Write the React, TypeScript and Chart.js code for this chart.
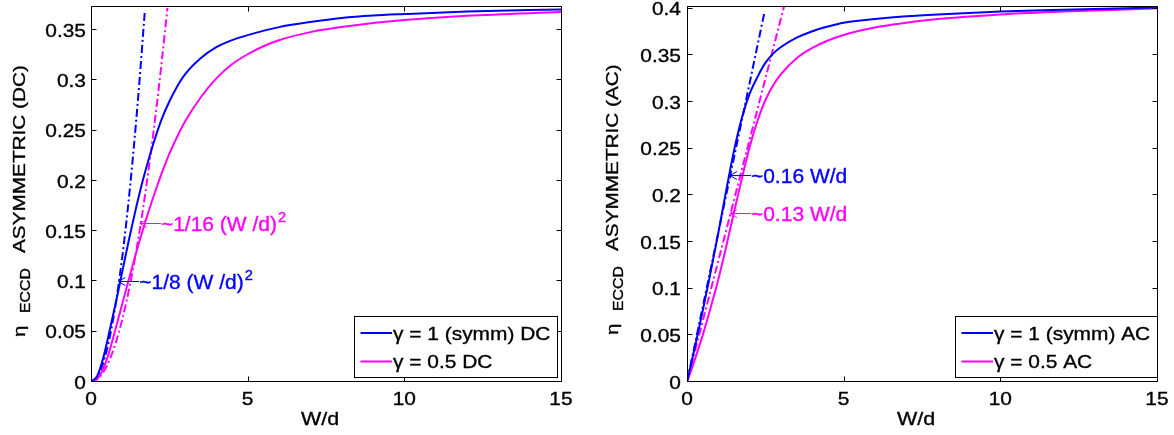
import React, { useEffect, useRef } from 'react';
import { Chart, registerables } from 'chart.js';

Chart.register(...registerables);

const FONT = "'Liberation Sans', Arial, Helvetica, sans-serif";
const BLUE = '#0000ff';
const MAGENTA = '#ff00ff';
const DASH_DOT = [8, 3, 2, 3];

// Shared x axis (W/d)
const xTickValues = [0, 5, 10, 15];
const xTickLabels = ['0', '5', '10', '15'];

// ---- DC panel ----
const yTickValuesDC = [0, 0.05, 0.1, 0.15, 0.2, 0.25, 0.3, 0.35];
const yTickLabelsDC = ['0', '0.05', '0.1', '0.15', '0.2', '0.25', '0.3', '0.35'];

const dcSymW = [0, 0.2, 0.4, 0.6, 0.8, 1.0, 1.2, 1.4, 1.6, 1.8, 2.0, 2.25, 2.5, 2.75, 3.0, 3.5, 4.0, 4.5, 5.0, 6.0, 7.0, 8.0, 9.0, 10, 12, 15];
const dcSymEta = [0, 0.006, 0.025, 0.052, 0.08, 0.11, 0.14, 0.168, 0.194, 0.217, 0.238, 0.261, 0.279, 0.294, 0.306, 0.322, 0.333, 0.34, 0.345, 0.353, 0.358, 0.362, 0.3645, 0.366, 0.3685, 0.3706];

const dcHalfW = [0, 0.25, 0.5, 0.75, 1.0, 1.25, 1.5, 1.75, 2.0, 2.25, 2.5, 2.75, 3.0, 3.5, 4.0, 4.5, 5.0, 5.5, 6.0, 7.0, 8.0, 9.0, 10, 12, 15];
const dcHalfEta = [0, 0.005, 0.022, 0.049, 0.078, 0.107, 0.135, 0.161, 0.185, 0.207, 0.227, 0.244, 0.259, 0.283, 0.302, 0.316, 0.326, 0.334, 0.34, 0.348, 0.353, 0.357, 0.36, 0.3642, 0.368];

// small-W asymptote ~ 1/8 (W/d)^2
const dcSymFitW = [0, 0.25, 0.5, 0.75, 1, 1.25, 1.5, 1.72];
const dcSymFitEta = [0, 0.0078, 0.0313, 0.0703, 0.125, 0.1953, 0.2813, 0.3698];
// small-W asymptote ~ 1/16 (W/d)^2
const dcHalfFitW = [0, 0.25, 0.5, 0.75, 1, 1.25, 1.5, 1.75, 2, 2.25, 2.44];
const dcHalfFitEta = [0, 0.0039, 0.0156, 0.0352, 0.0625, 0.0977, 0.1406, 0.1914, 0.25, 0.3164, 0.3721];

// ---- AC panel ----
const yTickValuesAC = [0, 0.05, 0.1, 0.15, 0.2, 0.25, 0.3, 0.35, 0.4];
const yTickLabelsAC = ['0', '0.05', '0.1', '0.15', '0.2', '0.25', '0.3', '0.35', '0.4'];

const acSymW = [0, 0.25, 0.5, 0.75, 1.0, 1.25, 1.5, 1.75, 2.0, 2.25, 2.5, 2.75, 3.0, 3.5, 4.0, 4.5, 5.0, 6.0, 7.0, 8.0, 10, 12, 15];
const acSymEta = [0, 0.037, 0.076, 0.117, 0.16, 0.205, 0.248, 0.283, 0.309, 0.327, 0.342, 0.352, 0.359, 0.369, 0.376, 0.381, 0.385, 0.389, 0.392, 0.394, 0.397, 0.399, 0.4015];

const acHalfW = [0, 0.25, 0.5, 0.75, 1.0, 1.25, 1.5, 1.75, 2.0, 2.25, 2.5, 2.75, 3.0, 3.5, 4.0, 4.5, 5.0, 6.0, 7.0, 8.0, 10, 12, 15];
const acHalfEta = [0, 0.024, 0.05, 0.079, 0.11, 0.145, 0.182, 0.218, 0.252, 0.28, 0.302, 0.318, 0.33, 0.347, 0.358, 0.366, 0.372, 0.38, 0.385, 0.389, 0.394, 0.397, 0.4005];

// small-W asymptote ~ 0.16 W/d
const acSymFitW = [0, 2.47];
const acSymFitEta = [0, 0.396];
// small-W asymptote ~ 0.13 W/d
const acHalfFitW = [0, 3.1];
const acHalfFitEta = [0, 0.403];

const legendDC = ['\u03b3 = 1 (symm) DC', '\u03b3 = 0.5 DC'];
const legendAC = ['\u03b3 = 1 (symm) AC', '\u03b3 = 0.5 AC'];

type Note = { x: number; y: number; color: string; text: string; sup?: string };

const notesDC: Note[] = [
  { x: 0.87, y: 0.1, color: BLUE, text: '~1/8 (W /d)', sup: '2' },
  { x: 1.56, y: 0.158, color: MAGENTA, text: '~1/16 (W /d)', sup: '2' },
];
const notesAC: Note[] = [
  { x: 1.37, y: 0.222, color: BLUE, text: '~0.16 W/d' },
  { x: 1.37, y: 0.181, color: MAGENTA, text: '~0.13 W/d' },
];

type Panel = {
  left: number;
  yAxisWidth: number;
  rightPad: number;
  yMax: number;
  yTicks: number[];
  yLabels: string[];
  yTickGap: number;
  yTitle: string;
  yTitleX: number;
  yTitleBottom: number;
  legend: string[];
  legendInset: number;
  notes: Note[];
  series: { w: number[]; eta: number[]; color: string; dashed: boolean }[];
};

const panels: Panel[] = [
  {
    left: 0,
    yAxisWidth: 91,
    rightPad: 26,
    yMax: 0.374,
    yTicks: yTickValuesDC,
    yLabels: yTickLabelsDC,
    yTickGap: 5,
    yTitle: 'ASYMMETRIC (DC)',
    yTitleX: 25,
    yTitleBottom: 337,
    legend: legendDC,
    legendInset: 4,
    notes: notesDC,
    series: [
      { w: dcSymW, eta: dcSymEta, color: BLUE, dashed: false },
      { w: dcHalfW, eta: dcHalfEta, color: MAGENTA, dashed: false },
      { w: dcSymFitW, eta: dcSymFitEta, color: BLUE, dashed: true },
      { w: dcHalfFitW, eta: dcHalfFitEta, color: MAGENTA, dashed: true },
    ],
  },
  {
    left: 587,
    yAxisWidth: 100,
    rightPad: 17,
    yMax: 0.403,
    yTicks: yTickValuesAC,
    yLabels: yTickLabelsAC,
    yTickGap: 6,
    yTitle: 'ASYMMETRIC (AC)',
    yTitleX: 31,
    yTitleBottom: 335,
    legend: legendAC,
    legendInset: 0,
    notes: notesAC,
    series: [
      { w: acSymW, eta: acSymEta, color: BLUE, dashed: false },
      { w: acHalfW, eta: acHalfEta, color: MAGENTA, dashed: false },
      { w: acSymFitW, eta: acSymFitEta, color: BLUE, dashed: true },
      { w: acHalfFitW, eta: acHalfFitEta, color: MAGENTA, dashed: true },
    ],
  },
];

const CANVAS_W = 587;
const CANVAS_H = 435;

// text drawn with a horizontal stretch factor (sx) in its own frame,
// with a hairline outline in the fill colour to give it some weight
function drawText(
  ctx: CanvasRenderingContext2D,
  s: string,
  x: number,
  y: number,
  size: number,
  align: 'left' | 'right' | 'center',
  sx: number
): number {
  ctx.font = `${size}px ${FONT}`;
  const w = ctx.measureText(s).width * sx;
  const x0 = align === 'left' ? x : align === 'right' ? x - w : x - w / 2;
  ctx.save();
  ctx.translate(x0, y);
  ctx.scale(sx, 1);
  ctx.textAlign = 'left';
  ctx.fillText(s, 0, 0);
  ctx.strokeStyle = ctx.fillStyle;
  ctx.lineWidth = 0.35;
  ctx.setLineDash([]);
  ctx.strokeText(s, 0, 0);
  ctx.restore();
  return w;
}

const TICK_SIZE = 18.5;
const TICK_SX = 1.13;

function makeDecor(p: Panel) {
  return {
    id: 'decor',
    afterDraw(chart: any) {
      const ctx: CanvasRenderingContext2D = chart.ctx;
      const a = chart.chartArea;
      const xs = chart.scales.x;
      const ys = chart.scales.y;
      ctx.save();

      // box and inward tick marks on all four sides
      const L = Math.round(a.left) + 0.5;
      const R = Math.round(a.right) + 0.5;
      const T = Math.round(a.top) + 0.5;
      const B = Math.round(a.bottom) - 0.5;
      ctx.strokeStyle = '#000';
      ctx.lineWidth = 1;
      ctx.setLineDash([]);
      ctx.beginPath();
      ctx.rect(L, T, R - L, B - T);
      const tl = 5;
      xTickValues.forEach((v) => {
        const px = Math.round(xs.getPixelForValue(v)) + 0.5;
        ctx.moveTo(px, B);
        ctx.lineTo(px, B - tl);
        ctx.moveTo(px, T);
        ctx.lineTo(px, T + tl);
      });
      p.yTicks.forEach((v) => {
        const py = Math.round(ys.getPixelForValue(v)) - 0.5;
        ctx.moveTo(L, py);
        ctx.lineTo(L + tl, py);
        ctx.moveTo(R, py);
        ctx.lineTo(R - tl, py);
      });
      ctx.stroke();

      // tick labels
      ctx.fillStyle = '#000';
      ctx.textBaseline = 'alphabetic';
      const capHalf = TICK_SIZE * 0.358;
      p.yTicks.forEach((v, i) => {
        const py = ys.getPixelForValue(v);
        drawText(ctx, p.yLabels[i], a.left - p.yTickGap, py + capHalf, TICK_SIZE, 'right', TICK_SX);
      });
      xTickValues.forEach((v, i) => {
        const px = xs.getPixelForValue(v);
        drawText(ctx, xTickLabels[i], px, a.bottom + 23, TICK_SIZE, 'center', TICK_SX);
      });

      // x axis title
      drawText(ctx, 'W/d', (a.left + a.right) / 2 - 6, 424.5, 19, 'center', TICK_SX);

      // y axis title with subscript
      ctx.save();
      ctx.translate(p.yTitleX, p.yTitleBottom);
      ctx.rotate(-Math.PI / 2);
      ctx.textBaseline = 'alphabetic';
      drawText(ctx, '\u03b7', 0, 0, 17, 'left', 1.2);
      drawText(ctx, 'ECCD', 24, 5, 14, 'left', 1.13);
      drawText(ctx, p.yTitle, 84, 0, 17, 'left', 1.22);
      ctx.restore();

      // annotations with arrows
      p.notes.forEach((n) => {
        const tx = xs.getPixelForValue(n.x);
        const ty = Math.round(ys.getPixelForValue(n.y)) + 0.5;
        ctx.strokeStyle = n.color;
        ctx.fillStyle = n.color;
        ctx.lineWidth = 1;
        ctx.beginPath();
        ctx.moveTo(tx, ty);
        ctx.lineTo(tx + 21, ty);
        ctx.moveTo(tx + 7, ty - 4);
        ctx.lineTo(tx, ty);
        ctx.lineTo(tx + 7, ty + 4);
        ctx.stroke();
        ctx.textBaseline = 'alphabetic';
        const w = drawText(ctx, n.text, tx + 21, ty + 7, 20, 'left', 1.05);
        if (n.sup) {
          drawText(ctx, n.sup, tx + 21 + w + 1, ty - 2, 14, 'left', 1.05);
        }
      });

      // legend box
      ctx.font = `${TICK_SIZE}px ${FONT}`;
      const textW = Math.max(...p.legend.map((s) => ctx.measureText(s).width)) * TICK_SX;
      const boxW = Math.round(38.5 + textW + 7);
      const boxR = Math.round(a.right) - p.legendInset + 0.5;
      const boxB = Math.round(a.bottom) - 5 + 0.5;
      const boxT = boxB - 61;
      const boxL = boxR - boxW;
      ctx.fillStyle = '#fff';
      ctx.fillRect(boxL, boxT, boxW, boxB - boxT);
      ctx.strokeStyle = '#000';
      ctx.lineWidth = 1;
      ctx.strokeRect(boxL, boxT, boxW, boxB - boxT);
      const colors = [BLUE, MAGENTA];
      p.legend.forEach((s, i) => {
        const yy = boxT + 16.5 + i * 28.5;
        ctx.strokeStyle = colors[i];
        ctx.lineWidth = 2;
        ctx.beginPath();
        ctx.moveTo(boxL + 6, yy);
        ctx.lineTo(boxL + 37.5, yy);
        ctx.stroke();
        ctx.fillStyle = '#000';
        ctx.textBaseline = 'alphabetic';
        drawText(ctx, s, boxL + 38.5, yy + capHalf, TICK_SIZE, 'left', TICK_SX);
      });

      ctx.restore();
    },
  };
}

function Plot({ p }: { p: Panel }) {
  const ref = useRef<HTMLCanvasElement | null>(null);
  useEffect(() => {
    const canvas = ref.current;
    if (!canvas) return;
    const datasets = p.series.map((s) => ({
      data: s.w.map((w, i) => ({ x: w, y: s.eta[i] })),
      borderColor: s.color,
      backgroundColor: s.color,
      borderWidth: 2,
      borderDash: s.dashed ? DASH_DOT : [],
      pointRadius: 0,
      showLine: true,
      fill: false,
      cubicInterpolationMode: 'monotone' as const,
    }));
    const chart = new Chart(canvas, {
      type: 'scatter',
      data: { datasets },
      plugins: [makeDecor(p)],
      options: {
        animation: false,
        responsive: false,
        events: [],
        layout: { padding: { top: 6, right: p.rightPad, left: 0, bottom: 0 } },
        plugins: { legend: { display: false }, tooltip: { enabled: false } },
        scales: {
          x: {
            type: 'linear',
            min: 0,
            max: 15,
            grid: { display: false, drawTicks: false },
            border: { display: false },
            ticks: { display: false },
            afterFit: (s: any) => {
              s.height = 53;
              s.paddingLeft = 0;
              s.paddingRight = 0;
            },
          },
          y: {
            type: 'linear',
            min: 0,
            max: p.yMax,
            grid: { display: false, drawTicks: false },
            border: { display: false },
            ticks: { display: false },
            afterFit: (s: any) => {
              s.width = p.yAxisWidth;
              s.paddingTop = 0;
              s.paddingBottom = 0;
            },
          },
        },
      },
    } as any);
    return () => chart.destroy();
  }, [p]);
  return (
    <canvas
      ref={ref}
      width={CANVAS_W}
      height={CANVAS_H}
      style={{ position: 'absolute', left: p.left, top: 0, width: CANVAS_W, height: CANVAS_H }}
    />
  );
}

export default function App() {
  return (
    <div style={{ position: 'absolute', left: 0, top: 0, width: 1174, height: 435, background: '#fff', overflow: 'hidden' }}>
      {panels.map((p, i) => (
        <Plot key={i} p={p} />
      ))}
    </div>
  );
}
